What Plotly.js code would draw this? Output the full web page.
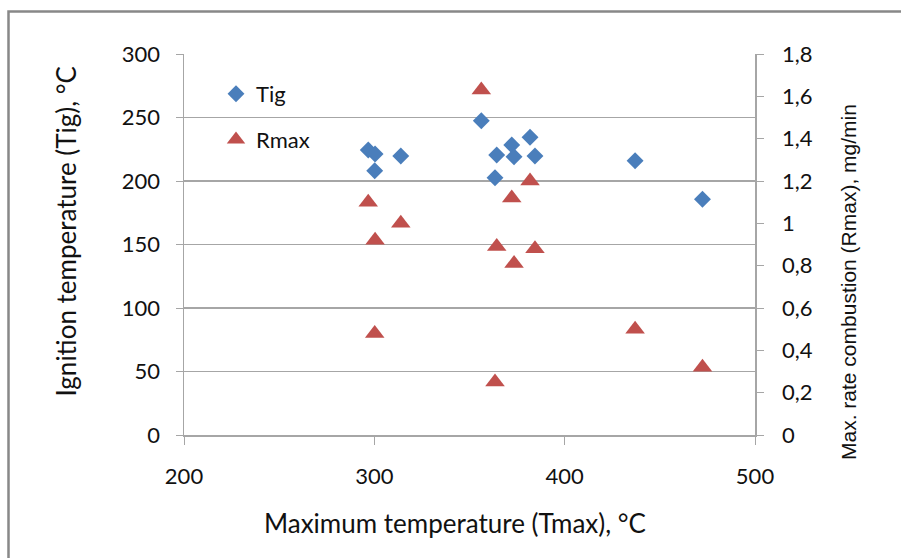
<!DOCTYPE html>
<html>
<head>
<meta charset="utf-8">
<script src="https://cdn.plot.ly/plotly-3.0.1.min.js"></script>
<style>html,body{margin:0;padding:0;background:#fff;}#chart{width:901px;height:558px;}</style>
</head>
<body>
<div id="chart"></div>
<script>
// Maximum temperature (Tmax), °C
const tmax = [296.8, 300.4, 300.2, 313.9, 356.2, 364.3, 363.4, 372.2, 373.4, 381.8, 384.4, 437.0, 472.4];
// Ignition temperature (Tig), °C
const tig = [224.4, 221.3, 208.1, 219.7, 247.5, 220.5, 202.6, 228.3, 219.1, 234.4, 219.7, 216.0, 185.6];
// Max. rate combustion (Rmax), mg/min
const rmax = [1.10, 0.92, 0.48, 1.00, 1.63, 0.89, 0.25, 1.12, 0.81, 1.20, 0.88, 0.50, 0.32];

const seriesNames = ["Tig", "Rmax"];
const leftTitle = "Ignition temperature (Tig), °C";
const rightTitle = "Max. rate combustion (Rmax), mg/min";
const xTitle = "Maximum temperature (Tmax), °C";

const grey = "#a6a6a6";
const font = "Lato, 'Open Sans', sans-serif";
const txt = "#111";

const traces = [
  {x: tmax, y: tig, name: seriesNames[0], type: "scatter", mode: "markers", yaxis: "y", legendgroup: "a",
   marker: {symbol: "diamond", size: 13, color: "#4a7ebb"}},
  {x: tmax, y: rmax, name: seriesNames[1], type: "scatter", mode: "markers", yaxis: "y2", legendgroup: "b",
   marker: {symbol: "triangle-up", size: 17, color: "#c0504d"}}
];

const W = 571, H = 381, L = 184, T = 54;
function px(xp) { return (xp - L) / W; }
function py(yp) { return (T + H - yp) / H; }

const layout = {
  width: 901, height: 558,
  margin: {l: L, r: 901 - L - W, t: T, b: 558 - T - H, pad: 0},
  paper_bgcolor: "#fff", plot_bgcolor: "#fff",
  separators: ", ",
  font: {family: font, size: 22, color: txt},
  showlegend: true,
  legend: {x: px(216), y: py(73), xanchor: "left", yanchor: "top", bgcolor: "rgba(0,0,0,0)",
           font: {family: font, size: 22, color: txt}, traceorder: "grouped", tracegroupgap: 14, itemwidth: 30},
  xaxis: {range: [200, 500], dtick: 100, tick0: 200, showgrid: false, zeroline: false,
          showline: true, linecolor: grey, linewidth: 1.5, ticks: "outside", ticklen: 8, tickcolor: grey,
          tickfont: {family: font, size: 22, color: txt}, ticklabelstandoff: 13},
  yaxis: {range: [0, 300], dtick: 50, tick0: 0, showgrid: true, gridcolor: grey, gridwidth: 1.2, zeroline: false,
          showline: true, linecolor: grey, linewidth: 1.5, ticks: "outside", ticklen: 7, tickcolor: grey,
          tickfont: {family: font, size: 22, color: txt}, ticklabelstandoff: 11},
  yaxis2: {range: [0, 1.8], dtick: 0.2, tick0: 0, overlaying: "y", side: "right", showgrid: false, zeroline: false,
          showline: true, linecolor: grey, linewidth: 1.5, ticks: "outside", ticklen: 7, tickcolor: grey,
          tickfont: {family: font, size: 22, color: txt}, ticklabelstandoff: 14},
  annotations: [
    {text: leftTitle, xref: "paper", yref: "paper", x: px(65), y: py(231.5), textangle: -90, showarrow: false,
     xanchor: "center", yanchor: "middle", font: {family: font, size: 26, color: txt}},
    {text: xTitle, xref: "paper", yref: "paper", x: px(455), y: py(523), showarrow: false,
     xanchor: "center", yanchor: "middle", font: {family: font, size: 26, color: txt}},
    {text: rightTitle, xref: "paper", yref: "paper", x: px(848), y: py(282), textangle: -90, showarrow: false,
     xanchor: "center", yanchor: "middle", font: {family: "'Liberation Sans', Arial, sans-serif", size: 21, color: txt}}
  ],
  shapes: [
    {type: "rect", xref: "paper", yref: "paper", x0: px(8.5), x1: px(1000), y0: py(11.5), y1: py(700),
     line: {color: "#888", width: 2.5}, fillcolor: "rgba(0,0,0,0)", layer: "below"}
  ]
};

Plotly.newPlot("chart", traces, layout, {displayModeBar: false, staticPlot: true});
</script>
</body>
</html>
